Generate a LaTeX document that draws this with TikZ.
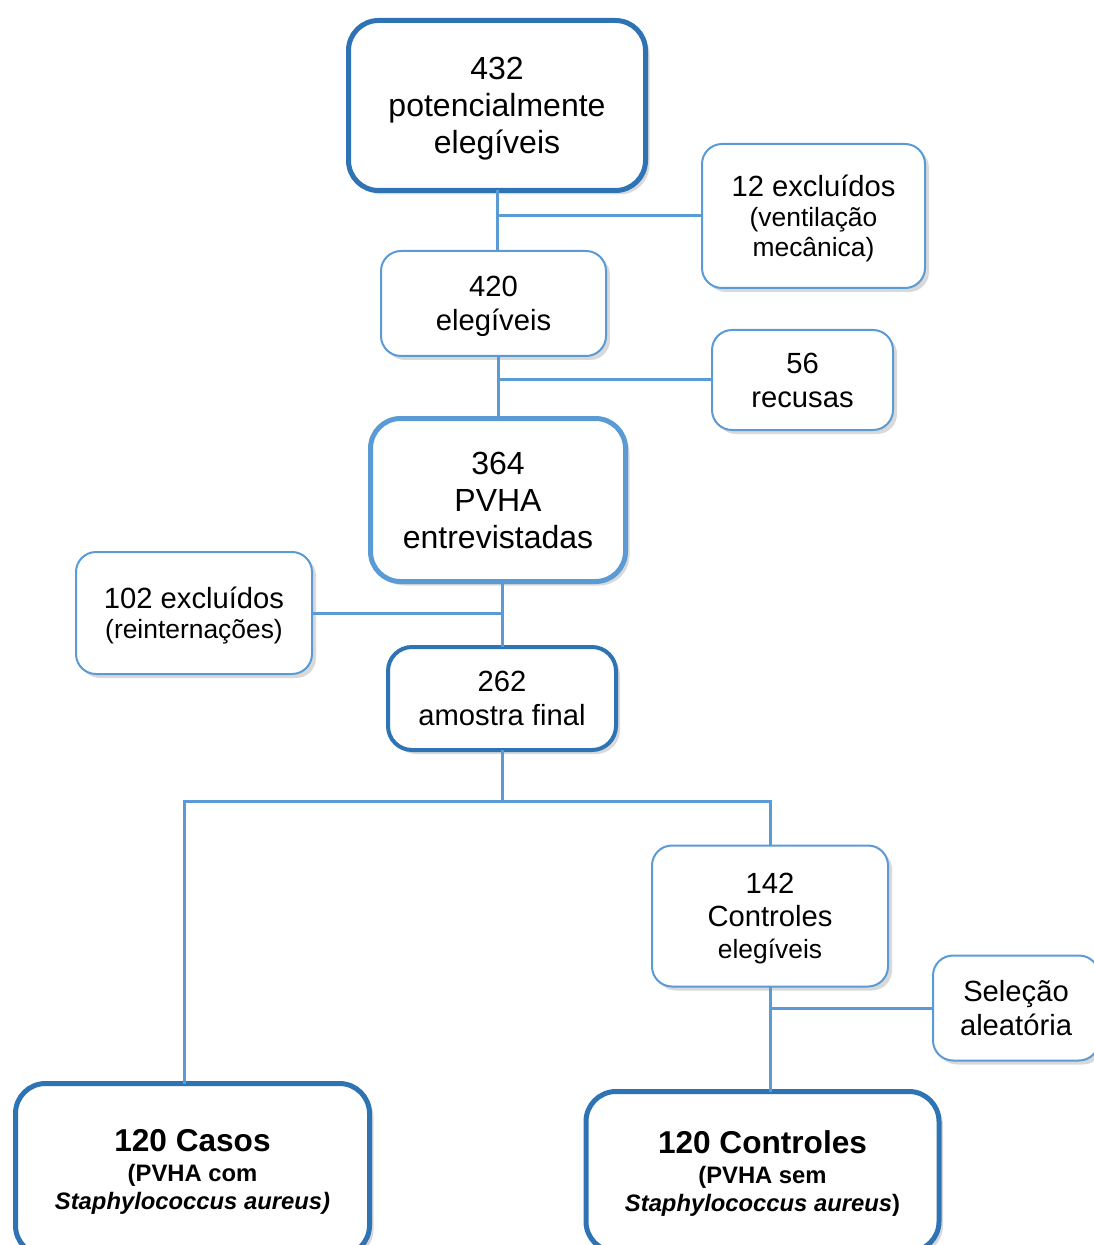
\documentclass[tikz,border=0pt]{standalone}
\usepackage{fontspec}
\setmainfont{Liberation Sans}
\usetikzlibrary{positioning,shadows,calc}
\definecolor{darkblue}{HTML}{2E74B5}
\definecolor{lightblue}{HTML}{5B9BD5}
\newcommand{\bigtxt}{\fontsize{16}{18.5}\selectfont}
\newcommand{\midtxt}{\fontsize{14.6}{17}\selectfont}
\newcommand{\smalltxt}{\fontsize{13.2}{15}\selectfont}
\newcommand{\boldtxt}{\fontsize{11.9}{14}\selectfont\bfseries}
\newcommand{\titletxt}{\fontsize{15.8}{18}\selectfont\bfseries}

\begin{document}
\begin{tikzpicture}[
    box/.style={
      rectangle,
      rounded corners=10pt,
      draw=lightblue,
      line width=1pt,
      fill=white,
      align=center,
      inner sep=0pt,
      outer sep=0pt,
      text depth=0pt,
      drop shadow={opacity=0.3, shadow xshift=2pt, shadow yshift=-2pt},
    },
    mainbox/.style={box, draw=darkblue, line width=2.5pt, rounded corners=15pt},
    link/.style={draw=lightblue, line width=1.5pt},
  ]
    \useasboundingbox (0,0) rectangle (546.5pt,-622.5pt);

    % main column
    \node[mainbox, minimum width=148.5pt, minimum height=85pt, font=\bigtxt] (Pot) at (248.5pt,-52.75pt) {432\\potencialmente\\elegíveis};
    \node[box, minimum width=112.5pt, minimum height=52.5pt, font=\midtxt, below=30.25pt of Pot, xshift=-1.75pt] (Eleg) {420\\elegíveis};
    \node[box, line width=2.5pt, rounded corners=15pt, minimum width=127.5pt, minimum height=81.5pt, font=\bigtxt, below=31.25pt of Eleg, xshift=2.25pt] (Entr) {364\\PVHA\\entrevistadas};
    \node[mainbox, line width=2pt, rounded corners=12pt, minimum width=114pt, minimum height=51.5pt, font=\midtxt, below=32.75pt of Entr, xshift=2pt] (Amos) {262\\amostra final};

    % exclusions
    \node[box, minimum width=111.5pt, minimum height=72pt, font=\smalltxt, right=28.25pt of Pot, yshift=-55.25pt] (Vent) {{\midtxt 12 excluídos}\\(ventilação\\mecânica)};
    \node[box, minimum width=90.5pt, minimum height=50pt, font=\midtxt, right=53pt of Eleg, yshift=-38.25pt] (Recu) {56\\recusas};
    \node[box, minimum width=118pt, minimum height=61pt, font=\smalltxt, left=29.25pt of Entr, yshift=-56.5pt] (Rein) {{\midtxt 102 excluídos}\\(reinternações)};

    % cases and controls
    \node[box, minimum width=118pt, minimum height=70.5pt, font=\smalltxt, below=47.75pt of Amos, xshift=134pt] (Ctrl) {{\midtxt 142}\\[1.5pt]{\midtxt Controles}\\[1pt]elegíveis};
    \node[box, minimum width=83pt, minimum height=52.5pt, font=\midtxt, right=22.5pt of Ctrl, yshift=-46pt] (Sele) {Seleção\\aleatória};
    \node[mainbox, minimum width=176.5pt, minimum height=80pt, font=\boldtxt, below=52.5pt of Ctrl, xshift=-3.75pt] (Cont) {{\titletxt 120 Controles}\\[1pt](PVHA sem\\\textit{Staphylococcus aureus})};
    \node[mainbox, minimum width=177pt, minimum height=86pt, font=\boldtxt, left=108.25pt of Cont, yshift=1pt] (Caso) {{\titletxt 120 Casos}\\[1pt](PVHA com\\\textit{Staphylococcus aureus)}};

    % connectors
    \draw[link] (Pot.south) -- (Pot.south |- Eleg.north);
    \draw[link] (Vent.west) -- (Vent.west -| Pot.south);
    \draw[link] (Entr.north) -- (Entr.north |- Eleg.south);
    \draw[link] (Recu.west) -- (Recu.west -| Entr.north);
    \draw[link] (Amos.north) -- (Amos.north |- Entr.south);
    \draw[link] (Rein.east) -- (Rein.east -| Amos.north);

    % split into cases / controls
    \coordinate (Bus) at ($(Amos.south)+(0,-25.75pt)$);
    \coordinate (CasoTop) at ($(Caso.north)+(-4.25pt,0)$);
    \draw[link] (Amos.south) -- (Bus);
    \draw[link] (CasoTop) |- (Bus) -| (Ctrl.north);
    \draw[link] (Ctrl.south) -- (Ctrl.south |- Cont.north);
    \draw[link] (Sele.west) -- (Sele.west -| Ctrl.south);
  \end{tikzpicture}
\end{document}
